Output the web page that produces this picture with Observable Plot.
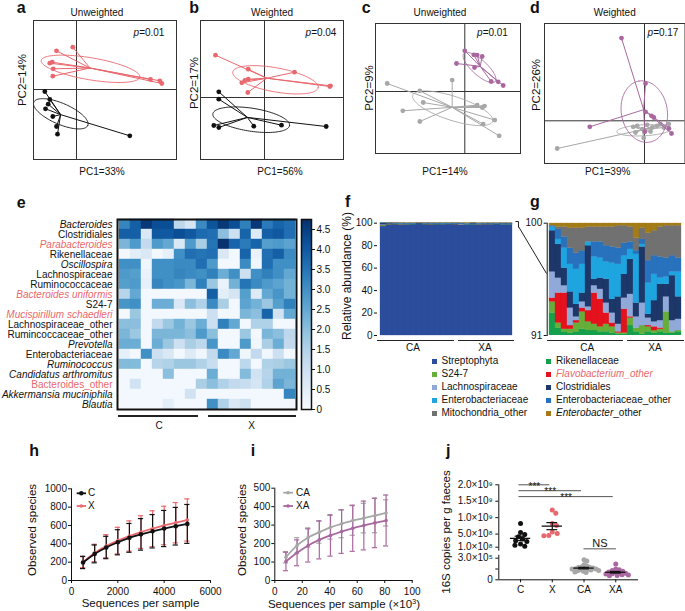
<!DOCTYPE html>
<html><head><meta charset="utf-8">
<script src="https://cdn.jsdelivr.net/npm/d3@7"></script>
<script src="https://cdn.jsdelivr.net/npm/@observablehq/plot@0.6"></script>
<style>
body{margin:0;background:#fff;}
#fig{position:relative;width:685px;height:611px;overflow:hidden;font-family:"Liberation Sans",Arial,sans-serif;color:#111;background:#fff;}
</style></head><body><div id="fig"></div>
<script>
// ---------------- DATA ----------------
const RED = "#e9686e", PUR = "#a8689f", GRY = "#a7a7a7", BLK = "#111111";

// PCoA scores (panel a/b: C vs X; panel c/d: CA vs XA)
const aX = [[-20,38.7],[-3.7,42.3],[-26.7,26.3],[-24.3,27.3],[-23.3,20.7],[-23.7,13.3],[74,10],[83.3,8.7],[85.3,6]];
const aC = [[-31.7,-2],[-26.7,-10],[-28.3,-14.7],[-31,-19.3],[-23.7,-27],[-20,-37],[-19,-44.7],[53.3,-46.3]];
const bX = [[-49,42.3],[-16.3,28.3],[30,25.3],[-16.3,18.3],[-19.7,17],[-22.7,14.7],[-16.7,5],[66,11.7],[65.3,11]];
const bC = [[-45.7,5.7],[-45.7,-1.7],[-50.7,-28],[-45.7,-30],[-10.7,-28.7],[17,-27.7],[61.7,-29]];
const cXA = [[0,40.7],[9,36.7],[12.4,36.4],[17.4,35],[-8.3,28],[9.7,24],[26.4,10],[33.4,9.7],[38.4,6]];
const cCA = [[-77.6,8],[-45,0.7],[-12.6,11.4],[-41.6,-11],[-62,-19.3],[-45,-30],[12.4,-13.6],[17.4,-16],[19.7,-14.6],[30,-28.6],[18.4,-32.6],[34.4,-44.3]];
const dXA = [[-23,82.7],[1,37.3],[1,9],[7,5],[9.3,3.3],[-54.7,-6],[24.3,-7.7],[27,-12.7],[0.3,-11]];
const dCA = [[-87.3,-27.7],[-11.3,-6],[-7.3,-5],[-2.3,-8.3],[2.7,-4],[7.7,-6.7],[12.7,-5],[16,-3.3],[24.3,-3.3],[19.3,-6.7],[6,-10.7],[-0.7,-17.3],[-9,-11.7]];
// confidence ellipses: centre, radii, angle (deg)
const ellAX = {cx:14, cy:20.7, rx:50, ry:11, a:-9.6};
const ellAC = {cx:-15.7, cy:-24.3, rx:29.4, ry:10.5, a:-23.4};
const ellBX = {cx:11, cy:17.7, rx:43.4, ry:12, a:-10.4};
const ellBC = {cx:-13.3, cy:-22.2, rx:38.8, ry:11.5, a:-8.7};
const ellCXA = {cx:14.7, cy:24, rx:21, ry:7.5, a:-42};
const ellCCA = {cx:-12.1, cy:-16.8, rx:42, ry:12, a:-18};
const ellDXA = {cx:-0.2, cy:9.2, rx:31, ry:23, a:100};
const ellDCA = {cx:-0.7, cy:-9.5, rx:27, ry:5.5, a:3};
const pcoaTitles = ["Unweighted","Weighted","Unweighted","Weighted"];
const pcoaP = ["0.01","0.04","0.01","0.17"];
const pcoaPC1 = ["PC1=33%","PC1=56%","PC1=14%","PC1=39%"];
const pcoaPC2 = ["PC2=14%","PC2=17%","PC2=9%","PC2=26%"];

// Heatmap (log abundance)
const heatRows = ["Bacteroides","Clostridiales","Parabacteroides","Rikenellaceae","Oscillospira","Lachnospiraceae","Ruminococcaceae","Bacteroides uniformis","S24-7","Mucispirillum schaedleri","Lachnospiraceae_other","Rumincoccaceae_other","Prevotella","Enterobacteriaceae","Ruminococcus","Candidatus arthromitus","Bacteroides_other","Akkermansia muciniphila","Blautia"];
const heatItalic = [1,0,1,0,1,0,0,1,0,1,0,0,1,0,1,1,0,1,1];
const heatRed    = [0,0,1,0,0,0,0,1,0,1,0,0,0,0,0,0,1,0,0];
const heatValues = [
 [3.2,3.9,4.6,4.2,4.2,1.3,0.8,3.1,4.1,4.6,4.2,3.3,4.6,3.4,3.8,3.6],
 [3.9,3.9,0.7,4.0,4.0,4.2,4.0,3.7,3.6,2.0,1.0,3.8,0.6,3.9,4.0,3.6],
 [2.2,2.8,1.2,2.8,2.5,0.7,2.8,1.6,3.5,4.7,3.8,3.4,3.8,2.7,2.8,2.6],
 [0.1,0.5,0.7,0.1,0.4,3.0,3.6,3.5,3.6,0.7,0.1,3.8,0.3,3.6,3.9,3.1],
 [3.0,3.0,0.2,3.0,3.0,3.1,3.1,3.6,2.8,0.1,0.1,3.1,0.2,3.6,3.0,3.0],
 [2.8,2.7,0.3,3.0,3.0,3.2,3.1,3.0,3.3,2.4,3.0,1.0,3.0,3.3,3.0,2.5],
 [2.7,2.8,0.4,3.2,3.0,2.9,2.2,3.3,1.8,0.3,2.3,3.5,3.1,2.8,2.6,2.3],
 [1.4,2.5,0.1,0.1,0.1,0.1,0.1,0.1,3.9,0.5,0.8,2.7,0.6,2.5,2.9,2.3],
 [2.9,3.0,0.1,2.4,2.4,0.7,2.0,1.5,3.1,1.6,0.1,2.6,2.3,1.8,2.7,3.3],
 [0.1,1.8,0.1,0.1,0.1,0.1,0.1,0.1,1.0,0.1,0.1,2.2,2.0,3.8,0.9,2.5],
 [2.0,2.0,0.1,1.2,1.8,2.3,1.8,2.4,1.0,3.3,2.5,0.1,1.5,1.5,0.1,0.1],
 [2.2,1.8,0.1,2.2,2.2,2.2,2.0,2.8,2.0,0.1,0.1,1.8,0.1,2.2,2.0,1.3],
 [2.4,2.4,0.1,2.4,1.8,1.0,1.6,1.3,2.9,0.1,0.1,2.8,0.2,1.6,2.4,1.2],
 [0.4,0.1,3.0,1.0,0.7,0.1,0.6,0.2,1.2,3.1,2.5,0.2,1.2,0.2,1.0,0.1],
 [2.1,2.1,0.1,1.4,1.5,1.8,1.8,1.5,1.1,0.1,0.1,1.3,0.1,1.5,1.6,1.8],
 [0.1,0.1,0.1,0.1,2.0,0.1,0.1,0.1,2.4,0.1,0.1,2.1,0.9,1.4,2.3,2.3],
 [0.1,0.9,0.1,0.1,0.1,0.1,0.1,1.6,2.0,1.5,1.2,1.1,0.8,1.5,2.6,2.2],
 [0.1,0.1,0.1,0.1,0.1,0.1,0.9,0.1,0.1,0.1,0.1,0.1,0.1,0.1,0.1,3.2],
 [0.1,0.1,0.1,0.1,0.5,0.1,0.1,0.1,3.0,1.5,0.7,1.0,0.1,0.1,0.1,0.1]
];
const heatMax = 4.75;
const colorbarTicks = [0,0.5,1,1.5,2,2.5,3,3.5,4,4.5];

// Relative abundance (22 samples: 13 CA, 9 XA)
const barCols = ["1","2","3","4","5","6","7","8","9","10","11","12","13","14","15","16","17","18","19","20","21","22"];
const taxaAll = ["Streptophyta","Rikenellaceae","S24-7","Flavobacterium_other","Lachnospiraceae","Clostridiales","Enterobacteriaceae","Enterobacteriaceae_other","Mitochondria_other","Enterobacter_other"];
const taxaColors = ["#2c4d9c","#16a04c","#66ad3a","#e3121d","#91a9d9","#1e3769","#1ea5df","#2872bd","#717171","#a47c17"];
const streptophyta = [97.0,98.7,98.8,98.7,98.7,98.8,98.9,98.8,98.7,98.8,98.8,98.9,98.8,98.2,98.4,98.8,98.7,98.8,98.8,98.9,98.8,98.8];
// panel g: composition of the top 91-100 % window
const gRik = [1.8,0.6,0.3,0.2,0.3,0.5,0.4,0.4,0.3,0.3,0.2,0.1,0.1,0.8,0.3,0.1,0.3,0.2,0.3,0.2,0.2,0.3];
const gS24 = [0.9,0.4,0.2,0.3,0.7,1.4,0.7,0.5,0.4,0.6,0.5,0.1,0.1,0.6,0.3,0.7,0.4,0.2,0.2,1.7,0.1,0.1];
const gFla = [0.3,2.4,2.9,0.3,0.2,0.3,0.9,2.5,2.2,0.9,0.3,0.1,1.9,0.1,0.0,0.0,0.1,0.3,0.1,0.0,0.0,0.0];
const gLac = [2.1,1.2,0.6,1.4,0.3,0.5,0.3,0.6,0.8,0.8,0.8,0.6,0.9,1.8,0.9,1.8,0.6,0.4,0.6,1.2,0.9,0.9];
const gClo = [3.3,2.7,1.4,1.3,1.0,0.7,4.9,0.5,0.9,1.9,1.1,2.2,1.9,2.8,1.1,4.5,0.3,1.7,2.9,1.0,3.6,1.8];
const gEnt = [0.3,0.4,1.6,2.2,2.8,2.3,0.3,1.8,1.6,1.4,2.9,2.6,1.5,0.8,3.9,0.2,2.5,2.1,0.5,0.6,0.3,2.0];
const gEno = [0.1,0.8,0.9,1.3,1.3,1.1,0.0,1.2,1.3,1.3,1.3,1.3,1.0,0.6,0.3,0.4,1.8,1.5,1.7,1.5,1.3,1.1];
const gMit = [0.0,0.2,0.8,1.6,2.0,1.8,1.2,1.2,1.2,1.5,1.6,1.8,1.4,1.2,1.0,0.9,2.2,2.0,2.4,2.6,2.4,2.6];
const gEbt = [0.2,0.3,0.3,0.4,0.4,0.4,0.3,0.3,0.3,0.3,0.3,0.2,0.2,0.3,1.2,0.4,0.8,0.6,0.3,0.2,0.2,0.2];
const gSeries = [gRik,gS24,gFla,gLac,gClo,gEnt,gEno,gMit,gEbt];
const gFloor = 91;

// Rarefaction h
const hSeq = [500,1000,1500,2000,2500,3000,3500,4000,4500,5000];
const hCmean = [197,290,360,417,465,503,537,567,592,617];
const hCsd = [67,97,122,137,157,172,182,197,205,212];
const hXmean = [200,300,375,435,485,528,565,600,630,660];
const hXsd = [60,95,125,145,165,178,195,210,220,230];
// Rarefaction i (x 10^3 sequences)
const iSeq = [8.1,16.2,24.3,32.4,40.5,48.6,56.7,64.8,72.9,81];
const iCAmean = [126,190,233,262,288,307,325,338,352,366];
const iCAsd = [31,42,52,60,64,75,80,80,93,71];
const iXAmean = [103,150,190,220,244,265,283,298,312,325];
const iXAsd = [50,70,90,103,112,118,125,132,134,138];

// 16S copies j
const jGroups = ["C","X","CA","XA"];
const jC = [8.2e8,5.5e8,4.9e8,4.2e8,3.5e8,3.0e8,2.7e8,2.0e8,1.6e8,1.3e8];
const jX = [1.23e9,1.13e9,8.2e8,7.6e8,5.6e8,5.2e8,4.6e8,4.5e8];
const jCA = [2.8e5,2.6e5,2.1e5,1.9e5,1.8e5,1.75e5,1.7e5,1.65e5,1.6e5,1.55e5,1.5e5,1.5e5,1.45e5,1.4e5,1.35e5,1.3e5,1.25e5,1.2e5,1.1e5,1.0e5];
const jXA = [2.2e5,1.5e5,1.3e5,1.4e5,1.2e5,1.1e5,1.0e5,0.95e5,0.9e5,0.85e5,0.8e5,0.7e5,0.65e5,0.6e5,0.55e5];
const jTickVals = [0,1.5e5,3e5,1e8,5e8,1e9,1.5e9,2e9];
const jTickLabels = ["0","","3.0\u00d710\u2075","1.0\u00d710\u2078","5.0\u00d710\u2078","1.0\u00d710\u2079","1.5\u00d710\u2079","2.0\u00d710\u2079"];
const jSig = [{a:0,b:1,v:2.0e9,lab:"***"},{a:0,b:2,v:1.82e9,lab:"***"},{a:0,b:3,v:1.64e9,lab:"***"}];
const jNS = {a:2,b:3,v:4.3e5,lab:"NS",tv:5.1e5};

// ---------------- HELPERS ----------------
const fig = document.getElementById("fig");
const FONT = "Liberation Sans, Arial, sans-serif";
const pstyle = (fs="9.5px") => ({fontFamily: FONT, fontSize: fs, background: "transparent", overflow: "visible", color: "#111"});
function addPlot(p, left, top){ p.style.position="absolute"; p.style.left=left+"px"; p.style.top=top+"px"; fig.appendChild(p); }
function txt(x, y, html, o={}){
  const d = document.createElement("div");
  d.innerHTML = html;
  Object.assign(d.style, {position:"absolute", left:x+"px", top:y+"px", fontSize:(o.size||10)+"px", lineHeight:"1", whiteSpace:"nowrap",
    fontWeight:o.weight||"normal", color:o.color||"#111", fontStyle:o.italic?"italic":"normal"});
  const ax = o.anchor==="start" ? "0" : o.anchor==="end" ? "-100%" : "-50%";
  d.style.transform = `translate(${ax},-50%)` + (o.rotate ? ` rotate(${o.rotate}deg)` : "");
  fig.appendChild(d);
}
function letter(x, base, ch){
  const s = 16, d = document.createElement("div"); d.textContent = ch;
  Object.assign(d.style, {position:"absolute", left:x+"px", top:(base-0.8465*s)+"px", fontSize:s+"px", lineHeight:"1", fontWeight:"bold"});
  fig.appendChild(d);
}
function hline(x1, x2, y, w=1.4, color="#222"){
  const d = document.createElement("div");
  Object.assign(d.style, {position:"absolute", left:x1+"px", top:(y-w/2)+"px", width:(x2-x1)+"px", height:w+"px", background:color});
  fig.appendChild(d);
}
function svgOverlay(left, top, w, h, inner){
  const d = document.createElement("div");
  d.innerHTML = `<svg width="${w}" height="${h}" xmlns="http://www.w3.org/2000/svg">${inner}</svg>`;
  Object.assign(d.style, {position:"absolute", left:left+"px", top:top+"px", width:w+"px", height:h+"px"});
  fig.appendChild(d);
}

// ---------------- PCoA a-d ----------------
function pcoa(box, xd, yd, groups){
  const marks = [Plot.ruleX([0], {stroke:"#333", strokeWidth:1}), Plot.ruleY([0], {stroke:"#333", strokeWidth:1})];
  for (const g of groups){
    const cx = d3.mean(g.pts, p => p[0]), cy = d3.mean(g.pts, p => p[1]);
    const e = g.ell, th = e.a*Math.PI/180;
    const ring = d3.range(0, 361, 3).map(t => { const r=t*Math.PI/180, u=e.rx*Math.cos(r), v=e.ry*Math.sin(r);
      return [e.cx + u*Math.cos(th) - v*Math.sin(th), e.cy + u*Math.sin(th) + v*Math.cos(th)]; });
    marks.push(Plot.line(ring, {x: d=>d[0], y: d=>d[1], stroke: g.color, strokeWidth: 0.9}));
    marks.push(Plot.link(g.pts, {x1: d=>d[0], y1: d=>d[1], x2: () => cx, y2: () => cy, stroke: g.color, strokeWidth: 1}));
    marks.push(Plot.dot(g.pts, {x: d=>d[0], y: d=>d[1], r: 2.4, fill: g.color}));
  }
  marks.push(Plot.frame({stroke:"#333"}));
  const m = 2;
  const p = Plot.plot({width: box.w+2*m, height: box.h+2*m, margin: m,
    x: {domain: xd, axis: null}, y: {domain: yd, axis: null}, style: pstyle(), marks});
  addPlot(p, box.l-m, box.t-m);
}
pcoa({l:33,t:20,w:143,h:139}, [-43,100], [-70,69], [{pts:aC,ell:ellAC,color:BLK},{pts:aX,ell:ellAX,color:RED}]);
pcoa({l:200,t:20,w:143,h:139}, [-64,79], [-62,77], [{pts:bC,ell:ellBC,color:BLK},{pts:bX,ell:ellBX,color:RED}]);
pcoa({l:375,t:22.7,w:145,h:130}, [-89.3,55.7], [-62,68], [{pts:cCA,ell:ellCCA,color:GRY},{pts:cXA,ell:ellCXA,color:PUR}]);
pcoa({l:544,t:22.7,w:140.5,h:140}, [-100,40.5], [-42.7,97.3], [{pts:dCA,ell:ellDCA,color:GRY},{pts:dXA,ell:ellDXA,color:PUR}]);

letter(16.7,14,"a"); letter(189.3,14,"b"); letter(361.7,14,"c"); letter(530,14,"d");
[[97,13],[272,13],[440,13],[614.7,13]].forEach(([x,y],i)=>txt(x,y,pcoaTitles[i]));
[[149,33.3],[321,33],[492.5,33],[663,33]].forEach(([x,y],i)=>txt(x,y,"<i>p</i>="+pcoaP[i]));
[[102,172],[280,172],[445,172],[607.7,172]].forEach(([x,y],i)=>txt(x,y,pcoaPC1[i]));
[[22.7,79.7],[195,82.5],[370,87.5],[536.7,85]].forEach(([x,y],i)=>txt(x,y,pcoaPC2[i],{size:11.5,rotate:-90}));

// ---------------- Heatmap e ----------------
const heatCols = d3.range(1, 17);
const heatCells = [];
heatRows.forEach((r, i) => heatValues[i].forEach((v, j) => heatCells.push({row: r, col: heatCols[j], v})));
const rowInfo = heatRows.map((name, i) => ({name, italic: heatItalic[i], red: heatRed[i]}));
const heatColor = {type: "linear", scheme: "blues", domain: [0, heatMax]};
const labelMarks = [];
for (const it of [0,1]) for (const rd of [0,1]) {
  labelMarks.push(Plot.text(rowInfo.filter(d => d.italic===it && d.red===rd), {y: "name", text: "name", frameAnchor: "left",
    textAnchor: "end", dx: -5, fill: rd ? RED : "#111", fontStyle: it ? "italic" : "normal", fontSize: 10}));
}
addPlot(Plot.plot({width: 300, height: 202, marginLeft: 117, marginRight: 4, marginTop: 9, marginBottom: 3,
  x: {type: "band", domain: heatCols, padding: 0, axis: null},
  y: {type: "band", domain: heatRows, padding: 0, axis: null},
  color: heatColor, style: pstyle("10px"),
  marks: [Plot.cell(heatCells, {x: "col", y: "row", fill: "v", stroke: "v", strokeWidth: 0.4}), ...labelMarks,
    Plot.frame({stroke: "#111", strokeWidth: 2})]}), 0, 210);
// colour bar
const cbStep = heatMax/190;
const cbSteps = d3.range(0, heatMax, cbStep);
addPlot(Plot.plot({width: 50, height: 202, marginLeft: 11, marginRight: 29, marginTop: 9, marginBottom: 3,
  x: {domain: [0,1], axis: null},
  y: {domain: [0, heatMax], ticks: colorbarTicks, tickFormat: d => d===0 ? "0" : d.toFixed(1), tickSize: 3, tickPadding: 2, axis: "right", label: null},
  color: heatColor, style: pstyle("10px"),
  marks: [Plot.rect(cbSteps, {x1: 0, x2: 1, y1: d => d, y2: d => d + cbStep*1.05, fill: d => d + cbStep/2}),
    Plot.frame({stroke: "#111", strokeWidth: 1.5})]}), 290, 210);
letter(16.7,209,"e");
hline(118,198,416,1.5); hline(208,296,416,1.5);
txt(159,425.7,"C"); txt(251.7,425.7,"X");

// ---------------- Stacked bars f & g ----------------
const barColor = {domain: taxaAll, range: taxaColors};
const fRows = [], gRows = [];
barCols.forEach((c, i) => {
  const tot = d3.sum(gSeries, s => s[i]);
  fRows.push({col: c, taxon: taxaAll[0], v: streptophyta[i]});
  let y0 = gFloor;
  gSeries.forEach((s, k) => {
    fRows.push({col: c, taxon: taxaAll[k+1], v: s[i] * (100 - streptophyta[i]) / tot});
    gRows.push({col: c, taxon: taxaAll[k+1], y1: y0, y2: y0 + s[i]});
    y0 += s[i];
  });
});
addPlot(Plot.plot({width: 176, height: 130, marginLeft: 37, marginRight: 2, marginTop: 12.7, marginBottom: 5,
  x: {type: "band", domain: barCols, padding: 0, axis: null},
  y: {domain: [0,100], ticks: [0,20,40,60,80,100], tickSize: 3, tickPadding: 2, label: null},
  color: barColor, style: pstyle("10px"),
  marks: [Plot.barY(fRows, {x: "col", y: "v", fill: "taxon", stroke: "taxon", strokeWidth: 0.3})]}), 340, 210);
addPlot(Plot.plot({width: 185, height: 130, marginLeft: 46.7, marginRight: 1, marginTop: 12.7, marginBottom: 5,
  x: {type: "band", domain: barCols, padding: 0, axis: null},
  y: {domain: [91,100], ticks: [91,100], tickSize: 3, tickPadding: 2, line: true, label: null},
  color: barColor, style: pstyle("10px"),
  marks: [Plot.barY(gRows, {x: "col", y1: "y1", y2: "y2", fill: "taxon", stroke: "taxon", strokeWidth: 0.3, clip: true})]}), 500, 210);
letter(345,208,"f"); letter(530,208,"g");
txt(347,276,"Relative abundance (%)",{size:12,rotate:-90});
hline(377,454,340.5,1.4); hline(458,514,340.5,1.4);
hline(546.7,623.3,340.5,1.4); hline(626.7,684,340.5,1.4);
txt(413,347.5,"CA"); txt(485,347.5,"XA"); txt(587.3,347.5,"CA"); txt(655,347.5,"XA");
svgOverlay(510,215,40,65,`<path d="M5.5,6.5 H8.5 V12.5" fill="none" stroke="#222" stroke-width="1"/><line x1="8.5" y1="11.5" x2="36.5" y2="58.5" stroke="#222" stroke-width="1"/>`);
// legend
const legLeft = [["Streptophyta",0,""],["S24-7",2,""],["Lachnospiraceae",4,""],["Enterobacteriaceae",6,""],["Mitochondria_other",8,""]];
const legRight = [["Rikenellaceae",1,""],["<i>Flavobacterium_other</i>",3,RED],["Clostridiales",5,""],["Enterobacteriaceae_other",7,""],["<i>Enterobacter</i>_other",9,""]];
const legY = [361,374,387,400,413];
function legSq(x, y, col){ const d=document.createElement("div"); Object.assign(d.style,{position:"absolute",left:(x-2.5)+"px",top:(y-2.5)+"px",width:"5px",height:"5px",background:col}); fig.appendChild(d); }
legLeft.forEach(([t,k,c],i)=>{ legSq(434,legY[i],taxaColors[k]); txt(441.5,legY[i],t,{anchor:"start",color:c||"#111"}); });
legRight.forEach(([t,k,c],i)=>{ legSq(548.3,legY[i],taxaColors[k]); txt(556,legY[i],t,{anchor:"start",color:c||"#111"}); });

// ---------------- Rarefaction h & i ----------------
function rarefaction(series, xOpt, yOpt, box){
  const marks = [];
  for (const s of series){
    const d = s.x.map((x,i)=>({x, m: s.mean[i], sd: s.sd[i]}));
    marks.push(Plot.ruleX(d, {x: "x", y1: r => r.m - r.sd, y2: r => r.m + r.sd, stroke: s.color, strokeWidth: 1.2}));
    marks.push(Plot.ruleY(d, {x1: "x", x2: "x", y: r => r.m + r.sd, insetLeft: -2.6, insetRight: -2.6, stroke: s.color, strokeWidth: 1.2}));
    marks.push(Plot.ruleY(d, {x1: "x", x2: "x", y: r => r.m - r.sd, insetLeft: -2.6, insetRight: -2.6, stroke: s.color, strokeWidth: 1.2}));
  }
  for (const s of series){
    const d = s.x.map((x,i)=>({x, m: s.mean[i]}));
    marks.push(Plot.line(d, {x: "x", y: "m", stroke: s.color, strokeWidth: 1.8, curve: "monotone-x"}));
    marks.push(Plot.dot(d, {x: "x", y: "m", r: s.r, fill: s.color}));
  }
  addPlot(Plot.plot({width: box.w, height: box.h, marginLeft: box.ml, marginRight: box.mr, marginTop: box.mt, marginBottom: box.mb,
    x: xOpt, y: yOpt, style: pstyle("10px"), marks}), box.l, box.t);
}
rarefaction([{x:hSeq,mean:hXmean,sd:hXsd,color:RED,r:1.8},{x:hSeq,mean:hCmean,sd:hCsd,color:BLK,r:2.3}],
  {domain:[0,6000], ticks:[0,2000,4000,6000], tickFormat: d => String(d), tickSize:3, tickPadding:4, line:true, label:null},
  {domain:[0,1000], ticks:[0,200,400,600,800,1000], tickFormat: d => String(d), tickSize:3, tickPadding:1.5, line:true, label:null},
  {l:25, t:478, w:197, h:122, ml:46, mr:12, mt:10.3, mb:20});
rarefaction([{x:iSeq,mean:iCAmean,sd:iCAsd,color:GRY,r:1.8},{x:iSeq,mean:iXAmean,sd:iXAsd,color:PUR,r:1.8}],
  {domain:[0,100], ticks:[0,20,40,60,80,100], tickFormat: d => String(d), tickSize:3, tickPadding:4, line:true, label:null},
  {domain:[0,500], ticks:[0,100,200,300,400,500], tickFormat: d => String(d), tickSize:3, tickPadding:1.5, line:true, label:null},
  {l:230, t:478, w:194, h:122, ml:44.3, mr:12.3, mt:9.7, mb:20});
letter(29.3,457,"h"); letter(250.7,457,"i"); letter(446,457,"j");
txt(33,530,"Observed species",{size:11.5,rotate:-90});
txt(243.3,530,"Observed species",{size:11.5,rotate:-90});
txt(140.5,604,"Sequences per sample",{size:11.5});
txt(344,604,"Sequences per sample (\u00d710<sup style='font-size:0.65em;vertical-align:0.55em'>3</sup>)",{size:11.5});
svgOverlay(70,485,30,30,`<line x1="6.7" x2="16" y1="8.3" y2="8.3" stroke="${BLK}" stroke-width="1.8"/><circle cx="11.3" cy="8.3" r="2.2" fill="${BLK}"/>
 <line x1="6.7" x2="16" y1="21" y2="21" stroke="${RED}" stroke-width="1.8"/><circle cx="11.3" cy="21" r="1.7" fill="${RED}"/>`);
txt(88,493.3,"C",{anchor:"start"}); txt(88,506,"X",{anchor:"start"});
svgOverlay(280,485,30,30,`<line x1="3.3" x2="13" y1="7.7" y2="7.7" stroke="${GRY}" stroke-width="1.8"/><circle cx="8" cy="7.7" r="1.8" fill="${GRY}"/>
 <line x1="3.3" x2="13" y1="21" y2="21" stroke="${PUR}" stroke-width="1.8"/><circle cx="8" cy="21" r="1.8" fill="${PUR}"/>`);
txt(296,492.7,"CA",{anchor:"start"}); txt(296,506,"XA",{anchor:"start"});

// ---------------- j: broken axis dot plot ----------------
// piecewise axis: lower segment 0..3e5, upper segment 1e8..2e9 (display units = px above zero)
const jY = v => v >= 5e7 ? 32.6 + (v - 1e8) / 1.9e9 * 62.4 : v / 3e5 * 21.6;
const J_STEP = 138.4 / 4.37;
function swarm(vals, gi, minDist){
  const placed = [];
  const sorted = vals.map(v => ({v, d: jY(v)})).sort((a,b) => b.d - a.d);
  for (const p of sorted){
    let off = 0;
    for (let k = 0; k < 400; k++){
      const cand = k === 0 ? 0 : (k % 2 ? 1 : -1) * Math.ceil(k/2) * 0.7;
      if (placed.every(q => Math.hypot(q.off - cand, q.d - p.d) >= minDist)) { off = cand; break; }
    }
    placed.push({off, d: p.d});
  }
  return placed.map(p => ({g: gi, x: gi + p.off / J_STEP, y: p.d}));
}
const jSets = [jC, jX, jCA, jXA], jCols = [BLK, RED, GRY, PUR], jDist = [4.6, 4.6, 3.0, 3.2];
const jMarks = [];
const jStats = jSets.map((vals, gi) => { const m = d3.mean(vals), se = d3.deviation(vals)/Math.sqrt(vals.length); return {gi, m, lo: m - se, hi: m + se}; });
jSets.forEach((vals, gi) => jMarks.push(Plot.dot(swarm(vals, gi, jDist[gi]), {x: "x", y: "y", r: 2.5, fill: jCols[gi]})));
jMarks.push(Plot.ruleY(jStats, {x1: d => d.gi - 0.32, x2: d => d.gi + 0.32, y: d => jY(d.m), stroke: "#111", strokeWidth: 1.3}));
jMarks.push(Plot.ruleX(jStats, {x: "gi", y1: d => jY(d.lo), y2: d => jY(d.hi), stroke: "#111", strokeWidth: 1.2}));
jMarks.push(Plot.ruleY(jStats, {x1: d => d.gi - 0.17, x2: d => d.gi + 0.17, y: d => jY(d.lo), stroke: "#111", strokeWidth: 1.2}));
jMarks.push(Plot.ruleY(jStats, {x1: d => d.gi - 0.17, x2: d => d.gi + 0.17, y: d => jY(d.hi), stroke: "#111", strokeWidth: 1.2}));
jMarks.push(Plot.ruleY(jSig, {x1: d => d.a - 0.05, x2: d => d.b - 0.08, y: d => jY(d.v), stroke: "#555", strokeWidth: 1}));
jMarks.push(Plot.text(jSig, {x: d => (d.a + d.b - 0.13)/2, y: d => jY(d.v), text: "lab", fontSize: 10, dy: 1.5, fill: "#111"}));
jMarks.push(Plot.ruleY([jNS], {x1: d => d.a, x2: d => d.b + 0.02, y: d => jY(d.v), stroke: "#555", strokeWidth: 1}));
jMarks.push(Plot.text([jNS], {x: d => (d.a + d.b)/2, y: d => jY(d.tv), text: "lab", fontSize: 11, fill: "#111"}));
jMarks.push(Plot.ruleX([{y1: 0, y2: 24.5}, {y1: 28.6, y2: 95}], {x: () => -0.685, y1: "y1", y2: "y2", stroke: "#111", strokeWidth: 1}));
const jTickMap = new Map(jTickVals.map((v, i) => [jY(v).toFixed(2), jTickLabels[i]]));
addPlot(Plot.plot({width: 192, height: 130, marginLeft: 43.3, marginRight: 10, marginTop: 14.3, marginBottom: 20.7,
  x: {domain: [-0.685, 3.685], ticks: [0,1,2,3], tickFormat: i => jGroups[i], tickSize: 3, tickPadding: 3, line: true, label: null},
  y: {domain: [0, 95], ticks: jTickVals.map(jY), tickFormat: d => jTickMap.get(d.toFixed(2)) ?? "", tickSize: 3, tickPadding: 3, label: null},
  style: pstyle("10px"), marks: jMarks}), 455, 470);
txt(446.7,531.7,"16S copies per g faeces",{size:11.5,rotate:-90});
</script></body></html>
